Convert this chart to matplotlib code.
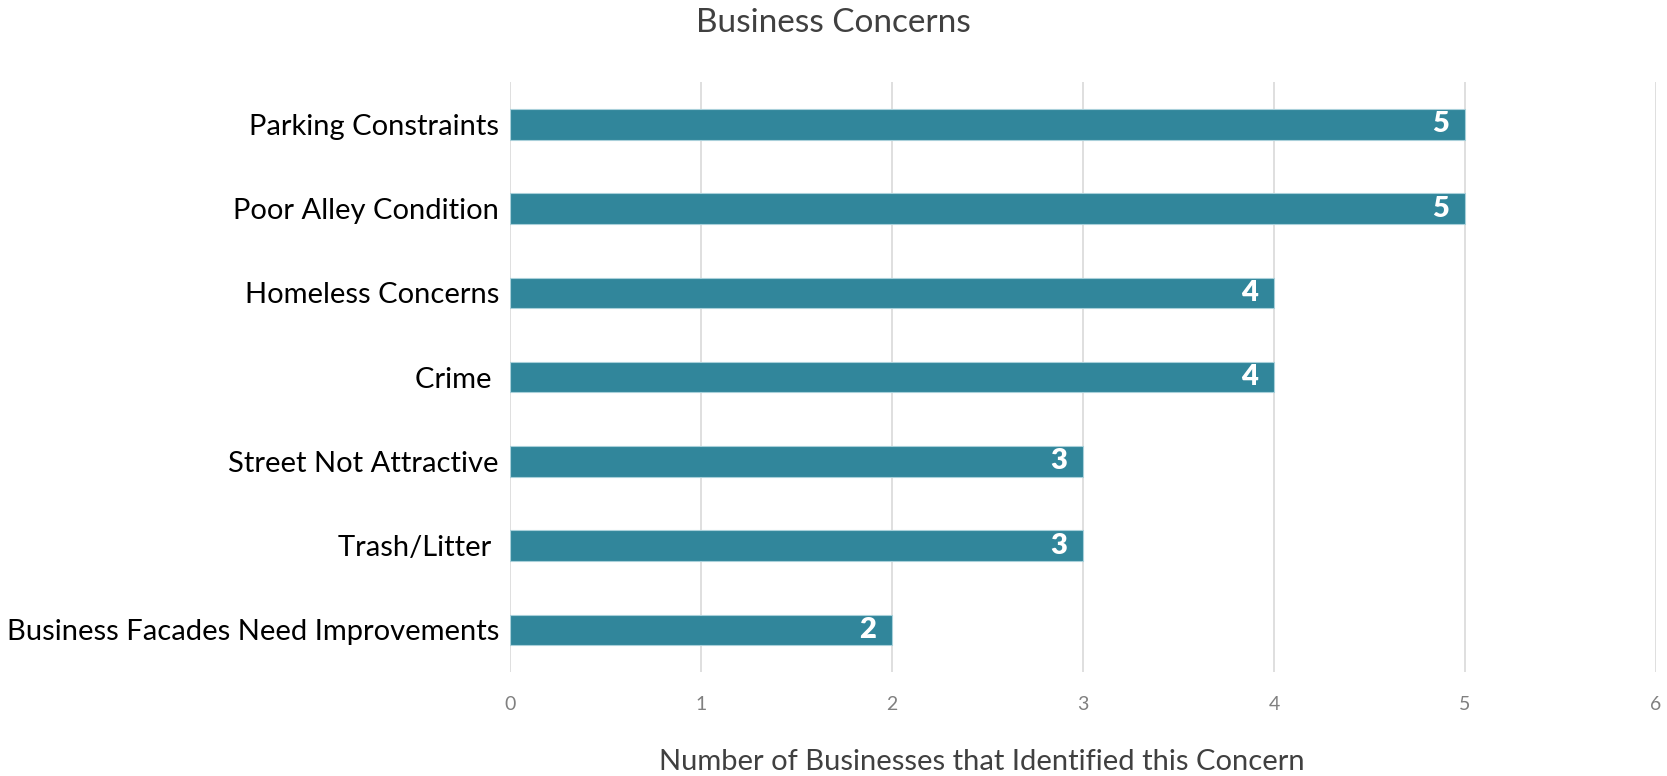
import matplotlib
matplotlib.use("Agg")
import matplotlib.pyplot as plt

# --------------------------------------------------------------
# Data
# --------------------------------------------------------------
concerns = [
    "Parking Constraints",
    "Poor Alley Condition",
    "Homeless Concerns",
    "Crime ",
    "Street Not Attractive",
    "Trash/Litter ",
    "Business Facades Need Improvements",
]
counts = [5, 5, 4, 4, 3, 3, 2]
x_ticks = [0, 1, 2, 3, 4, 5, 6]

BAR_COLOR = "#31869b"
plt.rcParams["font.family"] = ["Lato", "DejaVu Sans"]

# --------------------------------------------------------------
# Plot
# --------------------------------------------------------------
fig = plt.figure(figsize=(16.67, 7.76), dpi=100)
ax = fig.add_axes([0.306, 0.134, 0.6874, 0.760])

pos = list(range(len(concerns)))
bars = ax.barh(pos, counts, height=0.36, color=BAR_COLOR,
               edgecolor="#a9d0da", linewidth=0.8, zorder=3)

# value labels, inside end of each bar
for b, v in zip(bars, counts):
    ax.text(b.get_width() - 0.085, b.get_y() + b.get_height() / 2, str(v),
            ha="right", va="center", color="white", fontsize=21,
            fontweight="heavy", zorder=4)

ax.set_ylim(len(concerns) - 0.5, -0.5)
ax.set_xlim(0, 6)
ax.set_xticks(x_ticks)
ax.set_yticks(pos)
ax.set_yticklabels(concerns, fontsize=21, color="black")
ax.tick_params(axis="x", labelsize=14, colors="#808080", length=0, pad=17)
ax.tick_params(axis="y", length=0, pad=8)

ax.grid(axis="x", color="#d9d9d9", linewidth=1.2, zorder=0)
for s in ax.spines.values():
    s.set_visible(False)

fig.text(0.589, 0.018, "Number of Businesses that Identified this Concern",
         ha="center", va="center", fontsize=21, color="#404040")
fig.suptitle("Business Concerns", fontsize=24, color="#404040", y=0.99)

plt.savefig("out.png", dpi=100)
